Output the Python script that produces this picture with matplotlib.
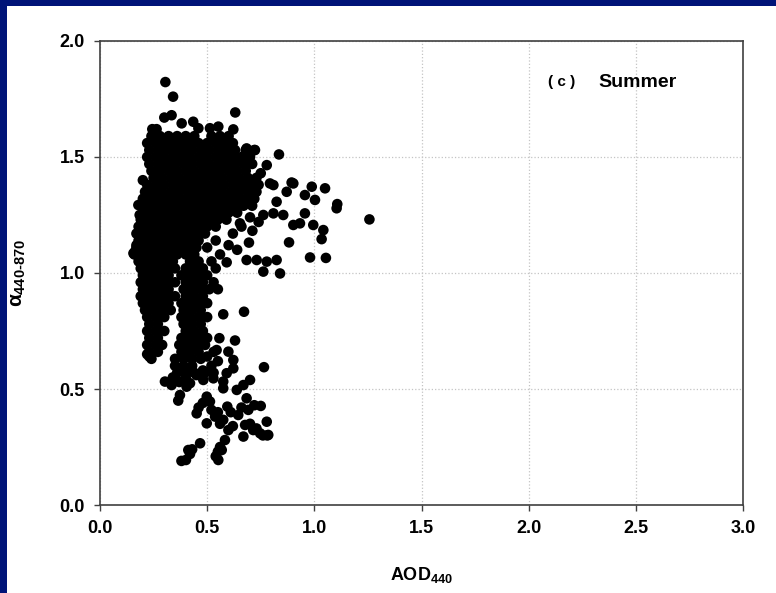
import matplotlib
matplotlib.use("Agg")
import matplotlib.pyplot as plt
from matplotlib.patches import Rectangle

plt.rcParams['font.family'] = ['Liberation Sans', 'DejaVu Sans']
plt.rcParams['mathtext.fontset'] = 'custom'
plt.rcParams['mathtext.rm'] = 'Liberation Sans:bold'
plt.rcParams['mathtext.it'] = 'Liberation Sans:bold'
plt.rcParams['mathtext.bf'] = 'Liberation Sans:bold'

# ---- data -----------------------------------------------------------------
# dense core, row by row: (alpha, [AOD values])
core_rows = [
    (1.59, [0.24, 0.28, 0.32, 0.36, 0.40, 0.44, 0.52, 0.56, 0.60]),
    (1.56, [0.22, 0.26, 0.30, 0.34, 0.38, 0.42, 0.46, 0.50, 0.54, 0.58, 0.62]),
    (1.53, [0.23, 0.27, 0.31, 0.35, 0.39, 0.43, 0.47, 0.51, 0.55, 0.59, 0.63, 0.68, 0.72]),
    (1.50, [0.22, 0.26, 0.30, 0.34, 0.38, 0.42, 0.46, 0.50, 0.54, 0.58, 0.62, 0.66, 0.70]),
    (1.47, [0.23, 0.27, 0.31, 0.35, 0.39, 0.43, 0.47, 0.51, 0.55, 0.59, 0.63, 0.67, 0.71]),
    (1.44, [0.24, 0.28, 0.32, 0.36, 0.40, 0.44, 0.48, 0.52, 0.56, 0.60, 0.64, 0.68]),
    (1.41, [0.25, 0.29, 0.33, 0.37, 0.41, 0.45, 0.49, 0.53, 0.57, 0.61, 0.65, 0.69, 0.73]),
    (1.38, [0.22, 0.26, 0.30, 0.34, 0.38, 0.42, 0.46, 0.50, 0.54, 0.58, 0.62, 0.66, 0.70, 0.74]),
    (1.35, [0.21, 0.25, 0.29, 0.33, 0.37, 0.41, 0.45, 0.49, 0.53, 0.57, 0.61, 0.65, 0.69, 0.73]),
    (1.32, [0.20, 0.24, 0.28, 0.32, 0.36, 0.40, 0.44, 0.48, 0.52, 0.56, 0.60, 0.64, 0.68, 0.72]),
    (1.29, [0.19, 0.23, 0.27, 0.31, 0.35, 0.39, 0.43, 0.47, 0.51, 0.55, 0.59, 0.63, 0.67, 0.71]),
    (1.26, [0.20, 0.24, 0.28, 0.32, 0.36, 0.40, 0.44, 0.48, 0.52, 0.56, 0.60, 0.64]),
    (1.23, [0.19, 0.23, 0.27, 0.31, 0.35, 0.39, 0.43, 0.47, 0.51, 0.55, 0.59]),
    (1.20, [0.18, 0.22, 0.26, 0.30, 0.34, 0.38, 0.42, 0.46, 0.50, 0.54]),
    (1.17, [0.17, 0.21, 0.25, 0.29, 0.33, 0.37, 0.41, 0.45, 0.49]),
    (1.14, [0.18, 0.22, 0.26, 0.30, 0.34, 0.38, 0.42, 0.46, 0.54]),
    (1.11, [0.17, 0.21, 0.25, 0.29, 0.33, 0.37, 0.41, 0.45, 0.50]),
    (1.08, [0.16, 0.20, 0.24, 0.28, 0.32, 0.36, 0.40, 0.44]),
    (1.05, [0.18, 0.22, 0.26, 0.30, 0.34, 0.42, 0.46, 0.52]),
    (1.02, [0.19, 0.23, 0.27, 0.31, 0.35, 0.40, 0.44, 0.48, 0.54]),
    (0.99, [0.20, 0.24, 0.28, 0.32, 0.38, 0.42, 0.46, 0.50]),
    (0.96, [0.19, 0.23, 0.27, 0.31, 0.35, 0.40, 0.44, 0.48, 0.53]),
    (0.93, [0.20, 0.24, 0.28, 0.32, 0.39, 0.43, 0.47, 0.51, 0.55]),
    (0.90, [0.19, 0.23, 0.27, 0.31, 0.35, 0.40, 0.44, 0.48]),
    (0.87, [0.20, 0.24, 0.28, 0.32, 0.38, 0.42, 0.46, 0.50]),
    (0.84, [0.21, 0.25, 0.29, 0.33, 0.39, 0.43, 0.47]),
    (0.81, [0.22, 0.26, 0.30, 0.38, 0.42, 0.46, 0.50]),
    (0.78, [0.23, 0.27, 0.39, 0.43, 0.47]),
    (0.75, [0.22, 0.26, 0.30, 0.40, 0.44, 0.48]),
    (0.72, [0.23, 0.27, 0.38, 0.42, 0.46, 0.50]),
    (0.69, [0.22, 0.26, 0.29, 0.37, 0.41, 0.45, 0.49]),
    (0.66, [0.23, 0.27, 0.38, 0.42, 0.46]),
    (0.63, [0.24, 0.35, 0.39, 0.43, 0.47]),
    (0.60, [0.35, 0.39, 0.43]),
    (0.57, [0.36, 0.40, 0.44, 0.49, 0.53]),
]

# scattered points around the core (AOD, alpha)
upper_aod = [0.305, 0.341, 0.631, 0.300, 0.334, 0.244, 0.264, 0.381, 0.435, 0.459,
             0.513, 0.552, 0.622, 0.835, 0.778, 0.723, 0.684, 0.902, 0.894, 0.988,
             1.050, 0.956, 1.003, 1.107, 1.104, 1.257, 0.871, 0.809, 0.793, 0.824,
             0.956, 0.855, 0.762, 0.809, 0.902, 0.933, 0.995, 1.042, 1.034, 0.882,
             0.980, 1.054, 0.711, 0.695, 0.653, 0.824, 0.778, 0.731, 0.684, 0.762,
             0.840, 0.591, 0.179, 0.163, 0.156, 0.187, 0.620, 0.660, 0.700, 0.740,
             0.600, 0.640, 0.560, 0.750, 0.170, 0.185, 0.200]
upper_alpha = [1.823, 1.760, 1.692, 1.670, 1.680, 1.620, 1.620, 1.645, 1.652, 1.624,
               1.624, 1.631, 1.619, 1.511, 1.465, 1.530, 1.537, 1.386, 1.390, 1.372,
               1.365, 1.336, 1.315, 1.297, 1.279, 1.231, 1.350, 1.379, 1.386, 1.307,
               1.257, 1.250, 1.250, 1.257, 1.207, 1.214, 1.207, 1.185, 1.146, 1.132,
               1.067, 1.065, 1.182, 1.131, 1.214, 1.056, 1.049, 1.056, 1.056, 1.006,
               0.998, 1.046, 1.293, 1.092, 1.085, 1.164, 1.170, 1.200, 1.240, 1.220,
               1.120, 1.100, 1.080, 1.430, 1.120, 1.250, 1.400]

lower_aod = [0.575, 0.672, 0.557, 0.630, 0.544, 0.599, 0.622, 0.622, 0.765, 0.303,
             0.334, 0.373, 0.365, 0.404, 0.420, 0.482, 0.498, 0.513, 0.529, 0.575,
             0.591, 0.575, 0.638, 0.669, 0.700, 0.684, 0.594, 0.451, 0.498, 0.537,
             0.575, 0.645, 0.692, 0.750, 0.677, 0.715, 0.778, 0.785, 0.747, 0.669,
             0.599, 0.583, 0.568, 0.552, 0.467, 0.412, 0.401, 0.380, 0.420, 0.430,
             0.540, 0.550, 0.560, 0.760, 0.780, 0.730, 0.700, 0.460, 0.480, 0.520,
             0.550, 0.560, 0.610, 0.660, 0.720, 0.620, 0.340, 0.370, 0.400, 0.450,
             0.480, 0.520, 0.550, 0.500, 0.530, 0.220, 0.230]
lower_alpha = [0.822, 0.833, 0.719, 0.709, 0.668, 0.661, 0.625, 0.589, 0.594, 0.532,
               0.517, 0.474, 0.450, 0.510, 0.525, 0.539, 0.467, 0.446, 0.546, 0.532,
               0.568, 0.503, 0.496, 0.517, 0.539, 0.460, 0.424, 0.395, 0.352, 0.381,
               0.367, 0.388, 0.410, 0.427, 0.345, 0.323, 0.359, 0.302, 0.309, 0.295,
               0.323, 0.280, 0.237, 0.194, 0.266, 0.237, 0.194, 0.190, 0.220, 0.240,
               0.210, 0.230, 0.250, 0.300, 0.300, 0.330, 0.350, 0.420, 0.440, 0.410,
               0.400, 0.350, 0.400, 0.420, 0.430, 0.340, 0.550, 0.530, 0.550, 0.560,
               0.580, 0.600, 0.620, 0.640, 0.660, 0.650, 0.640]

x_ticks = [0.0, 0.5, 1.0, 1.5, 2.0, 2.5, 3.0]
y_ticks = [0.0, 0.5, 1.0, 1.5, 2.0]

aod = []
alpha = []
for a, xs in core_rows:
    for x in xs:
        aod.append(x)
        alpha.append(a)
aod += upper_aod + lower_aod
alpha += upper_alpha + lower_alpha

# ---- figure ----------------------------------------------------------------
fig = plt.figure(figsize=(7.76, 5.93), dpi=100, facecolor='white')
navy = '#001478'
fig.patches.append(Rectangle((0, 0), 7 / 776, 1, transform=fig.transFigure,
                             facecolor=navy, edgecolor='none', zorder=-5))
fig.patches.append(Rectangle((0, 1 - 6 / 593), 1, 6 / 593, transform=fig.transFigure,
                             facecolor=navy, edgecolor='none', zorder=-5))

ax = fig.add_axes([100 / 776, 88 / 593, 643 / 776, 464 / 593])
ax.scatter(aod, alpha, s=58, c='black', edgecolors='none', zorder=3)

ax.set_xlim(0, 3)
ax.set_ylim(0, 2)
ax.set_xticks(x_ticks)
ax.set_yticks(y_ticks)
ax.set_xticklabels([f'{v:.1f}' for v in x_ticks], fontsize=13, fontweight='bold')
ax.set_yticklabels([f'{v:.1f}' for v in y_ticks], fontsize=13, fontweight='bold')
ax.tick_params(axis='both', direction='out', length=4, width=1, color='#404040')
ax.tick_params(axis='x', pad=7)
ax.tick_params(axis='y', pad=7)
ax.grid(True, linestyle=':', color='#c4c4c4', linewidth=0.9, zorder=0)
ax.set_axisbelow(True)
for sp in ax.spines.values():
    sp.set_color('#404040')
    sp.set_linewidth(1.2)

ax.set_xlabel(r'AOD$_{440}$', fontsize=13, fontweight='bold', labelpad=20)
ax.set_ylabel(r'$\alpha_{440\text{-}870}$', fontsize=15)
ax.yaxis.set_label_coords(-0.112, 0.5)

ax.text(2.09, 1.823, '( c )', fontsize=11, fontweight='bold', ha='left', va='center')
ax.text(2.324, 1.823, 'Summer', fontsize=14, fontweight='bold', ha='left', va='center')

fig.savefig('out.png', dpi=100, facecolor='white')
